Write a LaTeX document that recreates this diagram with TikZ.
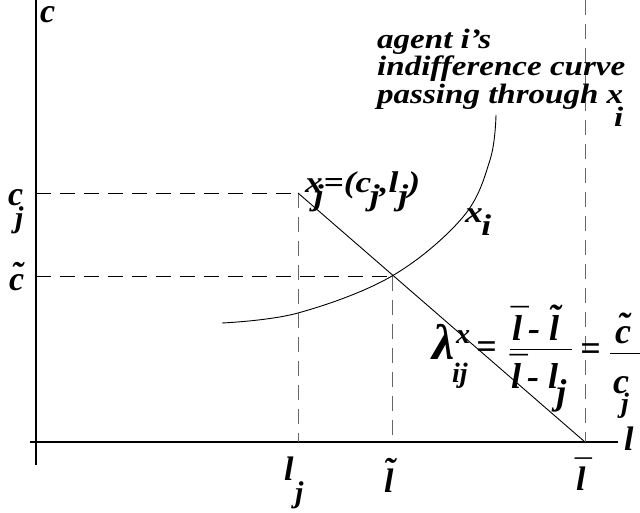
\documentclass[tikz,border=0pt]{standalone}
\usepackage{fontspec}
\newfontfamily\lsf{Liberation Serif}
\newfontfamily\nf{Liberation Serif}[FakeStretch=1.18]
\newcommand\dn[2][0.2em]{\kern-#1\raisebox{-0.45em}{#2}}
\newcommand\acc[3]{\leavevmode\setbox0\hbox{#2}\rlap{\hbox to \wd0{\hss\raisebox{#3}{#1}\hss}}\box0}
\begin{document}
\begin{tikzpicture}[x=1pt,y=-1pt,
  ax/.style={line width=1.1pt},
  thin line/.style={line width=0.9pt},
  guide/.style={dash pattern=on 15pt off 9pt, line width=0.9pt},
  vguide/.style={guide, draw=black!60},
  lab/.style={inner sep=0pt, anchor=base west, font=\lsf\fontsize{34}{34}\selectfont\bfseries\itshape},
  sublab/.style={lab, font=\lsf\fontsize{30}{30}\selectfont\bfseries\itshape},
  mid/.style={inner sep=0pt, anchor=base west, font=\nf\fontsize{30}{30}\selectfont\bfseries\itshape},
  note/.style={inner sep=0pt, anchor=base west, align=left, font=\nf\fontsize{28}{27.5}\selectfont\bfseries\itshape},
  fml/.style={inner sep=0pt, anchor=base west, font=\lsf\fontsize{36}{36}\selectfont\bfseries\itshape},
  fsub/.style={inner sep=0pt, anchor=base west, font=\lsf\fontsize{28}{28}\selectfont\bfseries\itshape},
  big/.style={inner sep=0pt, anchor=base west, font=\lsf\fontsize{50}{50}\selectfont\bfseries\itshape}]
\useasboundingbox (0,0) rectangle (640,512);
% points
\coordinate (ytop) at (36,0);
\coordinate (ybot) at (36,465);
\coordinate (xleft) at (30,442);
\coordinate (xright) at (618,442);
\coordinate (xj) at (298,193);
\coordinate (xt) at (392,276);
\coordinate (lbar) at (585,442);
\coordinate (lbartop) at (585,0);
\coordinate (ljb) at (298,442);
\coordinate (ltb) at (392,442);
\coordinate (cja) at (36,193);
\coordinate (cta) at (36,276);
% axes
\draw[ax] (ytop) -- (ybot);
\draw[ax] (xleft) -- (xright);
% guides
\draw[guide] (cja) -- (xj);
\draw[guide] (cta) -- (xt);
\draw[vguide] (xj) -- (ljb);
\draw[vguide] (xt) -- (ltb);
\draw[vguide] (lbartop) -- (lbar);
% budget line
\draw[thin line] (xj) -- (lbar);
% indifference curve
\draw[thin line] plot[smooth, tension=0.6] coordinates {(222,323) (298,313) (392,276) (463,217) (490,160) (496,115)};
% axis labels
\node[lab] (cax) at (40,22) {c};
\node[lab] (lax) at (624,450) {l};
\node[lab] (cj) at (8,205) {c};
\node[sublab] (cjs) at (15,227) {j};
\node[lab] (ct) at (9,290) {\acc{\char"02DC}{c}{0.14em}};
\node[lab] (lj) at (284,480) {l};
\node[sublab] (ljs) at (295,502) {j};
\node[lab] (lt) at (384,492) {\acc{\char"02DC}{l}{0.3em}};
\node[lab] (lb) at (576,490) {\acc{\char"00AF}{l}{0.2em}};
% point labels
\node[mid] (xjl) at (305,192) {x\dn[0.3em]{j}=(c\dn[0.05em]{j},l\dn[0em]{j})};
\node[mid] (xil) at (465,222) {x\dn[0.05em]{i}};
% note
\node[note] (note) at (377,103) {agent i’s\\indifference curve\\passing through x};
\node[note] (notesub) at (614,126) {i};
% formula
\node[big] (lam) at (432,359) {λ};
\node[fsub] (lsup) at (456,343) {x};
\node[fsub] (lsub) at (452,382) {ij};
\node[fml] (eq1) at (476,358) {=};
\node[fml] (num1) at (512,340) {\acc{\char"00AF}{l}{0.18em}\,- \acc{\char"02DC}{l}{0.3em}};
\coordinate (f1a) at (510,349);
\coordinate (f1b) at (572,349);
\draw[line width=1pt] (f1a) -- (f1b);
\node[fml] (den1) at (511,388) {\acc{\char"00AF}{l}{0.18em}\,- l\dn[0.05em]{j}};
\node[fml] (eq2) at (580,360) {=};
\node[fml] (num2) at (615,343) {\acc{\char"02DC}{c}{0.14em}};
\coordinate (f2a) at (610,353);
\coordinate (f2b) at (640,353);
\draw[line width=1pt] (f2a) -- (f2b);
\node[fml] (den2) at (613,393) {c};
\node[fsub] (den2s) at (621,412) {j};
\end{tikzpicture}
\end{document}
